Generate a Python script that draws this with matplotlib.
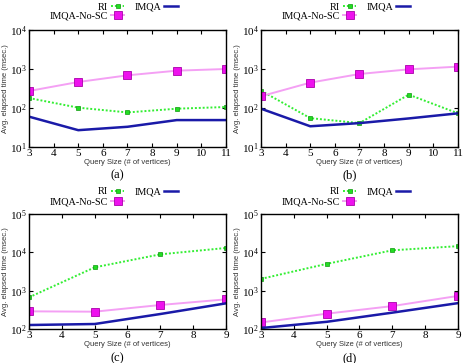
import matplotlib
matplotlib.use("Agg")
import matplotlib.pyplot as plt
from matplotlib.ticker import LogFormatterMathtext, NullLocator, FixedLocator

plt.rcParams['font.family'] = ['Liberation Serif', 'DejaVu Serif']
plt.rcParams['mathtext.fontset'] = 'stix'

# query sizes
sizes_ab = [3, 5, 7, 9, 11]
sizes_cd = [3, 5, 7, 9]

# (a)
ri_a = [180, 102, 77, 96, 106]
imqa_a = [60, 27, 33, 49, 49]
nosc_a = [273, 464, 689, 906, 1000]

# (b)
ri_b = [278, 55, 41, 220, 73]
imqa_b = [96, 34, 41, 54, 73]
nosc_b = [200, 447, 745, 980, 1150]

# (c)
ri_c = [670, 4060, 8870, 13000]
imqa_c = [127, 135, 246, 467]
nosc_c = [289, 283, 423, 594]

# (d)
ri_d = [2030, 5000, 11300, 14500]
imqa_d = [106, 154, 267, 473]
nosc_d = [148, 251, 396, 730]

panels = [
    ("(a)", sizes_ab, ri_a, imqa_a, nosc_a, (10, 1e4), range(3, 12)),
    ("(b)", sizes_ab, ri_b, imqa_b, nosc_b, (10, 1e4), range(3, 12)),
    ("(c)", sizes_cd, ri_c, imqa_c, nosc_c, (100, 1e5), range(3, 10)),
    ("(d)", sizes_cd, ri_d, imqa_d, nosc_d, (100, 1e5), range(3, 10)),
]

fig = plt.figure(figsize=(4.64, 3.63), dpi=100)

W = 464.0
H = 363.0
rects = [
    (29, 30, 197, 117),
    (261, 30, 197, 117),
    (29, 214, 197, 115),
    (261, 214, 197, 115),
]
caps_y = [175, 175, 358, 358]
leg_sp = [0.0, 0.0, 0.15, 0.15]

for (cap, xs, ri, imqa, nosc, ylim, xt), (l, t, w, h), cy, sp in zip(panels, rects, caps_y, leg_sp):
    ax = fig.add_axes([l / W, 1 - (t + h) / H, w / W, h / H])
    ax.plot(xs, ri, color='#33ee33', linestyle=(0, (1, 1)), linewidth=1.4,
            marker='s', markersize=3.2, markerfacecolor='#22dd22',
            markeredgecolor='#119911', markeredgewidth=0.5, label='RI')
    ax.plot(xs, nosc, color='#f4a0f4', linewidth=1.4,
            marker='s', markersize=6, markerfacecolor='#ee11ee',
            markeredgecolor='#aa00aa', markeredgewidth=0.6, label='IMQA-No-SC')
    ax.plot(xs, imqa, color='#1a1aa8', linewidth=1.8, label='IMQA')
    ax.set_yscale('log')
    ax.set_ylim(*ylim)
    ax.set_xlim(xs[0], xs[-1])
    ax.xaxis.set_major_locator(FixedLocator(list(xt)))
    ax.yaxis.set_major_formatter(LogFormatterMathtext())
    ax.yaxis.set_minor_locator(NullLocator())
    ax.tick_params(direction='in', length=3, width=0.8, labelsize=8,
                   top=True, right=True, pad=1.5)
    for s in ax.spines.values():
        s.set_linewidth(1.0)
    ax.set_xlabel('Query Size (# of vertices)', family='Liberation Sans',
                  fontsize=5.5, labelpad=1, color='#333333')
    ax.set_ylabel('Avg. elapsed time (msec.)', family='Liberation Sans',
                  fontsize=5.5, labelpad=1, color='#333333')
    hs, ls = ax.get_legend_handles_labels()
    ax.legend(hs, ls, ncol=2, markerfirst=False, frameon=False,
              loc='upper left', bbox_to_anchor=(0.105, 1.235), fontsize=7.3,
              handlelength=1.3, handletextpad=0.3, labelspacing=sp,
              columnspacing=1.0, borderpad=0, borderaxespad=0)
    fig.text((l + w / 2 - 10) / W, 1 - cy / H, cap, ha='center', va='center',
             fontsize=9)

fig.savefig('out.png', dpi=100)
